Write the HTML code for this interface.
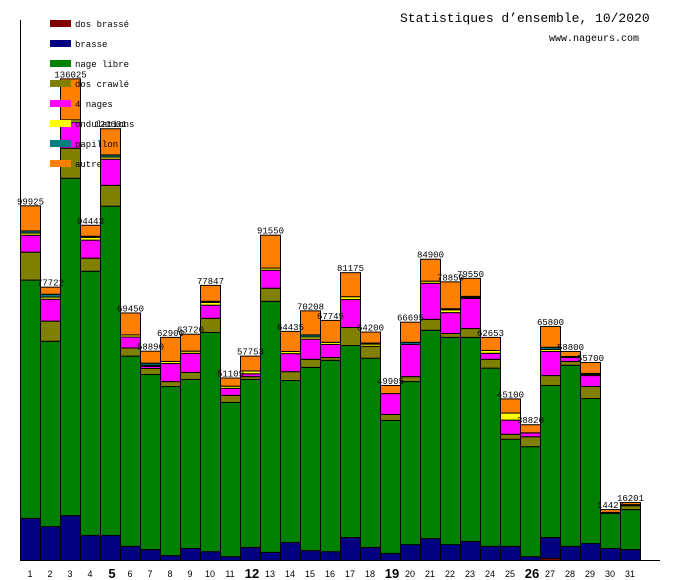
<!DOCTYPE html>
<html><head><meta charset="utf-8"><style>
body{margin:0;background:#fff;}
svg{display:block;font-family:"Liberation Mono",monospace;}
</style></head><body>
<svg id="chart" width="680" height="580" viewBox="0 0 680 580">
<text x="400" y="22" font-size="13">Statistiques d’ensemble, 10/2020</text>
<text x="549" y="41" font-size="10">www.nageurs.com</text>
<g id="bars"></g>
<line x1="20.5" y1="20" x2="20.5" y2="561" stroke="#000"/>
<line x1="20" y1="560.5" x2="660" y2="560.5" stroke="#000"/>
<g id="xlabels"></g>
<g id="labels"></g>
<g id="legend"></g>
</svg>
<script>
const days = [1,2,3,4,5,6,7,8,9,10,11,12,13,14,15,16,17,18,19,20,21,22,23,24,25,26,27,28,29,30,31];
const boldDays = [5,12,19,26];
const seriesNames = ["dos brassé","brasse","nage libre","dos crawlé","4 nages","ondulations","papillon","autre"];
const seriesColors = ["#800000","#000080","#008000","#808000","#ff00ff","#ffff00","#008080","#ff8000"];
const dosBrasse = [0,0,0,0,0,0,0,0,0,0,0,0,0,0,0,0,0,0,0,0,0,0,0,0,0,0,600,0,0,0,0];
const brasse = [11900,9600,12700,7100,7100,4000,3100,1400,3400,2500,1100,3700,2300,5100,2800,2500,6500,3700,2000,4500,6200,4500,5400,4000,4000,1100,5900,4000,4800,3400,3100];
const nageLibre = [67400,52400,95400,74700,93100,53800,49500,47800,47800,62000,43600,47500,71000,45800,51800,54100,54300,53500,37600,46100,58900,58600,57700,50400,30300,31100,43000,51200,41000,9900,11300];
const dosCrawle = [7900,5700,8500,3700,5900,2300,1700,1400,2000,4000,2000,800,3700,2500,2300,800,5100,3400,1700,1400,3100,1100,2500,2500,1400,2800,2800,1100,3400,0,1100];
const quatreNages = [4800,6200,7400,5100,7400,3100,600,5100,5400,3700,2000,800,5100,5100,5700,3700,7900,0,5900,9100,10200,5900,8500,1700,4000,1100,6800,1100,3100,0,0];
const ondulations = [600,600,600,800,600,600,300,600,600,800,600,800,600,600,600,600,800,600,0,0,600,800,300,800,2000,0,600,300,300,0,0];
const papillon = [600,800,0,300,600,0,600,0,0,300,0,0,0,0,600,0,0,300,0,600,0,300,300,0,0,0,600,0,300,300,300];
const autre = [7100,2000,11600,3100,7400,6200,3400,6800,4800,4500,2300,4200,9300,5700,6800,6200,6800,3100,2300,5700,6200,7600,5100,3700,4000,2300,5900,1400,3100,800,600];
const totalLabels = ["99925","77722","136025","94443","121601","69450","58890","62900","63720","77847","51109","57753","91550","64435","70208","67745","81175","64200","49905","66695","84900","78850","79550","62653","45100","38820","65800","58800","55700","14427","16201"];

const series = [dosBrasse,brasse,nageLibre,dosCrawle,quatreNages,ondulations,papillon,autre];
const NS="http://www.w3.org/2000/svg";
const baseY=560, pxPer=1/282.8, x0=20, bw=20;
function yScale(v){return baseY - v*pxPer;}
function xScale(i){return x0 + i*bw;}
const bars=document.getElementById('bars');
const labels=document.getElementById('labels');
const xl=document.getElementById('xlabels');
days.forEach((d,i)=>{
  let cum=0;
  series.forEach((s,k)=>{
    const v=s[i]; if(!v) return;
    const y1=yScale(cum), y2=yScale(cum+v);
    cum+=v;
    const r=document.createElementNS(NS,'rect');
    r.setAttribute('x',xScale(i)+0.5);r.setAttribute('y',y2+0.5);
    r.setAttribute('width',bw);r.setAttribute('height',Math.max(y1-y2,0.5));
    r.setAttribute('fill',seriesColors[k]);r.setAttribute('stroke','#000');r.setAttribute('stroke-width','1');
    
    
    bars.appendChild(r);
  });
  const t=document.createElementNS(NS,'text');
  t.setAttribute('x',xScale(i)+bw/2+0.5);t.setAttribute('y',yScale(cum)-1);
  t.setAttribute('text-anchor','middle');t.setAttribute('font-size','9');
  t.textContent=totalLabels[i];
  
  
  labels.appendChild(t);
  const b=boldDays.includes(d);
  const xt=document.createElementNS(NS,'text');
  xt.setAttribute('x',xScale(i)+bw/2+(b?2:0));xt.setAttribute('y',b?578:577);
  xt.setAttribute('text-anchor','middle');
  xt.setAttribute('font-size',b?'13':'9');
  xt.setAttribute('font-family','"Liberation Sans",sans-serif');
  if(b)xt.setAttribute('font-weight','bold');
  xt.textContent=d;
  
  
  xl.appendChild(xt);
});
const lg=document.getElementById('legend');
seriesNames.forEach((n,k)=>{
  const y=20+k*20;
  const r=document.createElementNS(NS,'rect');
  r.setAttribute('x',50);r.setAttribute('y',y);r.setAttribute('width',21);r.setAttribute('height',7);
  r.setAttribute('fill',seriesColors[k]);
  
  
  lg.appendChild(r);
  const t=document.createElementNS(NS,'text');
  t.setAttribute('x',75);t.setAttribute('y',y+7);t.setAttribute('font-size','9');
  t.textContent=n;
  
  
  lg.appendChild(t);
});
</script>
</body></html>
